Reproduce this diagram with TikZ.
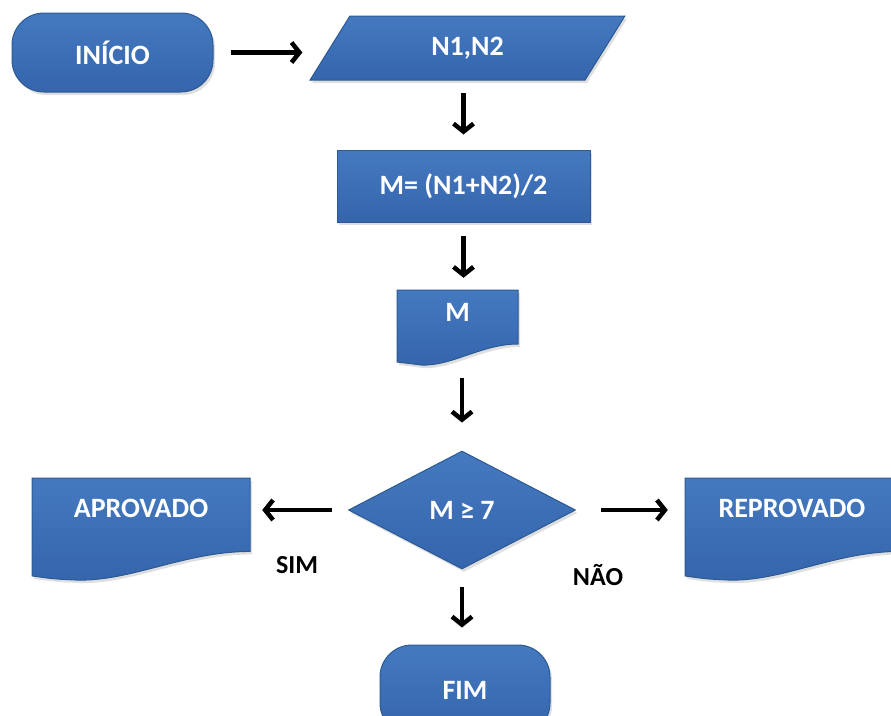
\documentclass[tikz,border=0pt]{standalone}
\usepackage{fontspec}
\setmainfont{Carlito}
\usetikzlibrary{shapes.geometric,arrows.meta,shadows}

\definecolor{boxtop}{HTML}{4479C0}
\definecolor{boxbottom}{HTML}{3565AC}
\definecolor{boxline}{HTML}{2B5A92}

\tikzset{
  shade/.style={drop shadow={opacity=0.25, shadow xshift=2pt, shadow yshift=-3pt}},
  bluefill/.style={top color=boxtop, bottom color=boxbottom, draw=boxline, line width=1pt},
  base/.style={bluefill, text=white, inner sep=0pt,
    font=\bfseries\fontsize{28}{32}\selectfont, shade},
  terminal/.style={base, rectangle, rounded corners=32pt},
  io/.style={base, trapezium, trapezium left angle=61, trapezium right angle=119,
    trapezium stretches=true},
  process/.style={base, rectangle},
  decision/.style={base, diamond},
  docframe/.style={rectangle, inner sep=0pt},
  doctext/.style={text=white, inner sep=0pt, font=\bfseries\fontsize{28}{32}\selectfont},
  arr/.style={line width=4.5pt, -{Straight Barb[length=8pt,width=20pt]}},
  lbl/.style={inner sep=0pt, font=\bfseries\fontsize{26}{30}\selectfont}
}

% #1 name, #2 cx, #3 cy, #4 width, #5 height, #6 text
\newcommand{\docshape}[6]{%
  \path[bluefill, shade]
    (#2-#4/2, #3-#5/2) -- (#2+#4/2, #3-#5/2) -- (#2+#4/2, #3+0.22*#5)
    .. controls (#2+0.2*#4, #3+0.22*#5) and (#2-0.05*#4, #3+0.52*#5) .. (#2-0.3*#4, #3+0.5*#5)
    .. controls (#2-0.4*#4, #3+0.49*#5) .. (#2-#4/2, #3+0.46*#5) -- cycle;
  \node[docframe, minimum width=#4pt, minimum height=#5pt] (#1) at (#2,#3) {};
  \node[doctext] (#1-txt) at (#2, #3-0.2*#5) {#6};
}

\begin{document}
\begin{tikzpicture}[x=1pt, y=-1pt]
  \useasboundingbox (0,0) rectangle (891,715);

  % shapes
  \node[terminal, minimum width=201pt, minimum height=79pt] (inicio) at (112.5,52.5) {INÍCIO};
  \node[io, minimum width=315pt, minimum height=64pt] (entrada) at (467.5,48) {N1,N2};
  \node[process, minimum width=253pt, minimum height=72pt] (calc) at (463.5,186) {M= (N1+N2)/2};
  \docshape{media}{457.5}{327.5}{121}{75}{M}
  \node[decision, minimum width=227pt, minimum height=118pt] (teste) at (462,510) {M ≥ 7};
  \docshape{aprovado}{141}{529}{218}{102}{APROVADO}
  \docshape{reprovado}{792}{529}{214}{102}{REPROVADO}
  \node[terminal, minimum width=170pt, minimum height=90pt] (fim) at (465,690) {FIM};

  % connectors
  \draw[arr, shorten <=17pt, shorten >=27pt] (inicio.east) -- (inicio.east -| entrada.west);
  \draw[arr, shorten <=12pt, shorten >=15pt] (calc.north |- entrada.south) -- (calc.north);
  \draw[arr, shorten <=13pt, shorten >=12pt] (calc.south) -- (calc.south |- media.north);
  \draw[arr, shorten <=13pt, shorten >=28pt] (media.south -| teste.north) -- (teste.north);
  \draw[arr, shorten <=17pt, shorten >=17pt] (teste.south) -- (teste.south |- fim.north);
  \draw[arr, shorten <=16pt, shorten >=12pt] (teste.west) -- (teste.west -| aprovado.east);
  \draw[arr, shorten <=25pt, shorten >=17pt] (teste.east) -- (teste.east -| reprovado.west);

  % labels
  \node[lbl] (sim) at (297,565) {SIM};
  \node[lbl] (nao) at (598,575) {NÃO};
\end{tikzpicture}
\end{document}
